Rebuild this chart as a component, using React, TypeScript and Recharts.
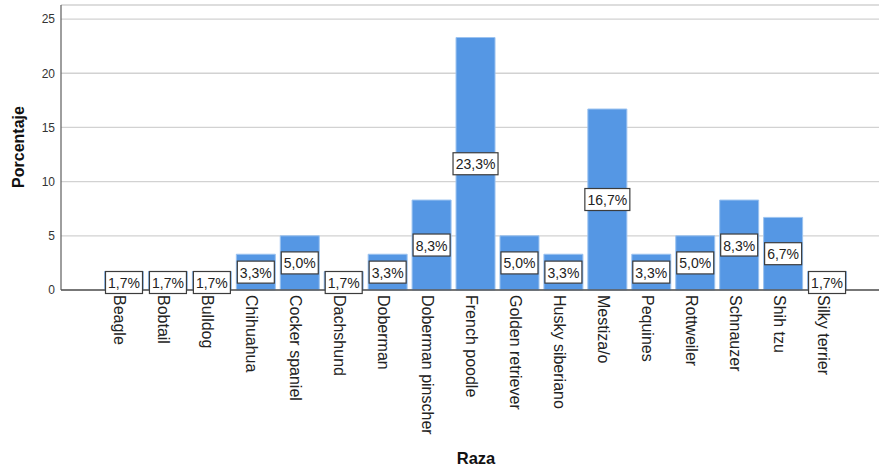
import React from 'react';
import { BarChart, Bar, XAxis, YAxis, CartesianGrid, LabelList } from 'recharts';

// Porcentaje por raza
const razas = [
  'Beagle', 'Bobtail', 'Bulldog', 'Chihuahua', 'Cocker spaniel', 'Dachshund',
  'Doberman', 'Doberman pinscher', 'French poodle', 'Golden retriever',
  'Husky siberiano', 'Mestiza/o', 'Pequines', 'Rottweiler', 'Schnauzer',
  'Shih tzu', 'Silky terrier',
];
const porcentajes = [
  1.7, 1.7, 1.7, 3.3, 5.0, 1.7, 3.3, 8.3, 23.3, 5.0, 3.3, 16.7, 3.3, 5.0, 8.3, 6.7, 1.7,
];
const yTicks = [0, 5, 10, 15, 20, 25];

const data = razas.map((raza, i) => ({ raza, porcentaje: porcentajes[i] }));

const FONT = "Arial, 'Liberation Sans', sans-serif";
const BAR_COLOR = '#5597e4';

const fmt = (v: number) => v.toFixed(1).replace('.', ',') + '%';

// etiqueta con recuadro blanco, centrada en la barra
const BoxLabel = (props: any) => {
  const { x, y, width, height, value } = props;
  const cx = x + width / 2;
  const base = y + height;
  const mid = y + height / 2;
  const cy = value < 2 ? base - 7.5 : Math.min(mid, base - 17);
  const text = fmt(value);
  const boxW = text.length === 4 ? 37 : 45;
  return (
    <g>
      <rect
        x={cx - boxW / 2}
        y={cy - 11}
        width={boxW}
        height={22}
        fill="#ffffff"
        stroke="#3c3c3c"
        strokeWidth={1.2}
      />
      <text
        x={cx}
        y={cy + 0.5}
        textAnchor="middle"
        dominantBaseline="central"
        fontSize={14}
        fontFamily={FONT}
        fill="#222"
      >
        {text}
      </text>
    </g>
  );
};

// nombres de raza en vertical
const RazaTick = (props: any) => {
  const { x, y, payload } = props;
  return (
    <text
      transform={`translate(${x - 4.5}, ${y + 5}) rotate(90)`}
      textAnchor="start"
      dominantBaseline="central"
      fontSize={16}
      fontFamily={FONT}
      fill="#222"
    >
      {payload.value}
    </text>
  );
};

const App = () => {
  return (
    <div
      style={{
        position: 'absolute',
        top: 0,
        left: 0,
        width: 879,
        height: 468,
        background: '#ffffff',
        fontFamily: FONT,
      }}
    >
      <BarChart
        width={879}
        height={468}
        data={data}
        margin={{ top: 5, right: 0, bottom: 0, left: 0 }}
        barSize={39}
      >
        <CartesianGrid vertical={false} stroke="#d2d2d2" strokeWidth={1.3} />
        <YAxis
          width={61}
          domain={[0, 26.3]}
          ticks={yTicks}
          tickLine={false}
          tickSize={4}
          tickMargin={2}
          axisLine={{ stroke: '#6a6a6a', strokeWidth: 1.3 }}
          tick={{ fontSize: 12, fill: '#333', fontFamily: FONT }}
          label={() => (
            <text
              transform="translate(18.7, 147) rotate(-90)"
              textAnchor="middle"
              dominantBaseline="central"
              fontSize={16}
              fontWeight="bold"
              fontFamily={FONT}
              fill="#111"
            >
              Porcentaje
            </text>
          )}
        />
        <XAxis
          dataKey="raza"
          height={178}
          interval={0}
          tickLine={false}
          tickSize={0}
          tickMargin={0}
          padding={{ left: 41.5, right: 29.5 }}
          axisLine={{ stroke: '#555', strokeWidth: 1.3 }}
          tick={<RazaTick />}
          label={() => (
            <text
              x={476}
              y={458}
              textAnchor="middle"
              dominantBaseline="central"
              fontSize={16.5}
              fontWeight="bold"
              fontFamily={FONT}
              fill="#111"
            >
              Raza
            </text>
          )}
        />
        <Bar
          dataKey="porcentaje"
          fill={BAR_COLOR}
          stroke="#9cc3f0"
          strokeWidth={1}
          isAnimationActive={false}
        >
          <LabelList dataKey="porcentaje" content={<BoxLabel />} />
        </Bar>
      </BarChart>
    </div>
  );
};

export default App;
